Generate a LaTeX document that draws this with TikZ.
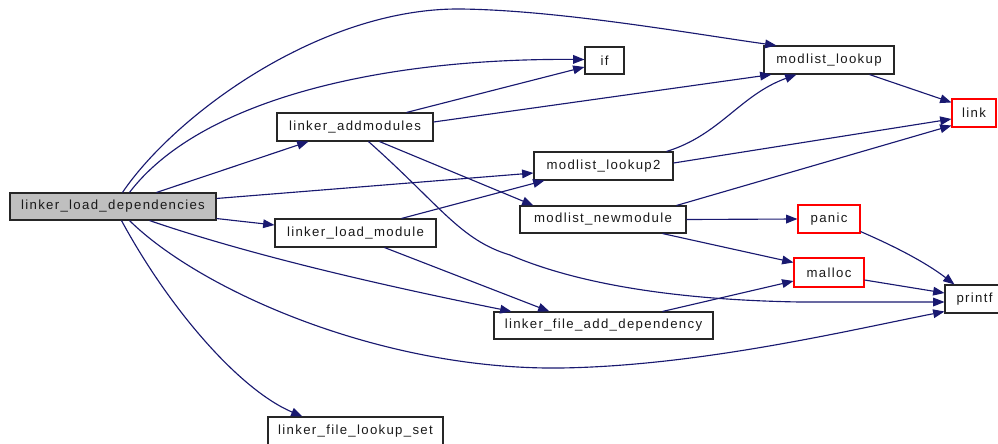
\documentclass[tikz,border=0pt]{standalone}
\usepackage{fontspec}
\setmainfont{Liberation Sans}[LetterSpace=10]
\usetikzlibrary{arrows.meta,calc}
\definecolor{edgeblue}{HTML}{191970}
\definecolor{rootgray}{HTML}{BFBFBF}
\begin{document}
\begin{tikzpicture}[x=0.75pt,y=-0.75pt,
  fn/.style={draw=black!85,line width=0.8pt,inner sep=0pt,font=\fontsize{9.9pt}{11pt}\selectfont,text=black!90},
  undoc/.style={fn,draw=red},
  root/.style={fn,fill=rootgray},
  call/.style={draw=edgeblue,line width=0.85pt,-{Triangle[length=8.5pt,width=6.5pt]}}]
\useasboundingbox (0,0) rectangle (998,443);

% functions
\node[root, minimum width=154.5pt, minimum height=20.25pt] (lld) at (113,206.5) {linker\_load\_dependencies};
\node[fn, minimum width=117pt, minimum height=21pt] (am) at (355,127) {linker\_addmodules};
\node[fn, minimum width=104.25pt, minimum height=21pt] (ml2) at (603.5,166) {modlist\_lookup2};
\node[fn, minimum width=124.5pt, minimum height=20.25pt] (nm) at (603,219.5) {modlist\_newmodule};
\node[fn, minimum width=120.75pt, minimum height=21pt] (lm) at (355.5,233) {linker\_load\_module};
\node[fn, minimum width=29.25pt, minimum height=20.25pt] (if) at (604.5,60.5) {if};
\node[fn, minimum width=97.5pt, minimum height=21pt] (ml) at (829,60) {modlist\_lookup};
\node[undoc, minimum width=33pt, minimum height=21pt] (link) at (974,113) {link};
\node[undoc, minimum width=46.5pt, minimum height=21pt] (panic) at (829,219) {panic};
\node[undoc, minimum width=52.5pt, minimum height=21.75pt] (malloc) at (829,272.5) {malloc};
\node[fn, minimum width=44.25pt, minimum height=21pt] (printf) at (974.5,299) {printf};
\node[fn, minimum width=164.25pt, minimum height=20.25pt] (lfad) at (603.5,325.5) {linker\_file\_add\_dependency};
\node[fn, minimum width=131.25pt, minimum height=21pt] (lfls) at (355.5,431) {linker\_file\_lookup\_set};

% calls from linker_load_dependencies
\draw[call] ($(lld.north west)+(113,0)$) .. controls (175,115) and (320,8) .. (460,9)
  .. controls (560,10) and (700,35) .. ($(ml.north west)+(13,0)$);
\draw[call] ($(lld.north west)+(120,0)$) .. controls (200,100) and (380,58) .. ($(if.west)+(0,-1)$);
\draw[call] ($(lld.north west)+(147,0)$) -- ($(am.south west)+(32,0)$);
\draw[call] ($(lld.north east)+(0,6)$) -- ($(ml2.west)+(0,7)$);
\draw[call] ($(lld.south east)+(0,-2)$) -- ($(lm.west)+(0,-8)$);
\draw[call] ($(lld.south west)+(140,0)$) .. controls (250,255) and (380,285) .. ($(lfad.north west)+(18,0)$);
\draw[call] ($(lld.south west)+(120,0)$) .. controls (200,290) and (380,370) .. (560,368)
  .. controls (700,366) and (850,330) .. ($(printf.south west)+(0,-2)$);
\draw[call] ($(lld.south west)+(112,0)$) .. controls (170,310) and (240,390) .. ($(lfls.north west)+(35,0)$);

% calls from linker_addmodules
\draw[call] ($(am.north west)+(130,0)$) -- ($(if.west)+(0,6.5)$);
\draw[call] ($(am.east)+(0,-5)$) -- ($(ml.south west)+(8,0)$);
\draw[call] ($(am.south west)+(103,0)$) -- ($(nm.north west)+(14,0)$);
\draw[call] ($(am.south west)+(92,0)$) .. controls (440,205) and (460,240) .. (510,255)
  .. controls (580,285) and (680,300) .. (800,302) -- ($(printf.west)+(0,3)$);

% calls from linker_load_module
\draw[call] ($(lm.north west)+(127,0)$) -- ($(ml2.south west)+(11,0)$);
\draw[call] ($(lm.south west)+(110,0)$) -- ($(lfad.north west)+(56,0)$);

% calls from modlist_lookup2
\draw[call] ($(ml2.north west)+(133,0)$) .. controls (720,135) and (740,95) .. ($(ml.south west)+(33,0)$);
\draw[call] ($(ml2.east)+(0,-3)$) -- ($(link.west)+(0,6)$);

% calls from modlist_newmodule
\draw[call] ($(nm.north east)+(-10,0)$) -- ($(link.south west)+(0,-2)$);
\draw[call] (nm.east) -- (panic.west);
\draw[call] ($(nm.south west)+(143,0)$) -- ($(malloc.north west)+(0,5)$);

% remaining calls
\draw[call] ($(lfad.north west)+(169,0)$) -- ($(malloc.west)+(0,8.5)$);
\draw[call] ($(ml.south west)+(106,0)$) -- ($(link.north west)+(0,4)$);
\draw[call] ($(panic.south east)+(0,-2)$) .. controls (880,240) and (920,258) .. ($(printf.north west)+(10,0)$);
\draw[call] ($(malloc.east)+(0,7.5)$) -- ($(printf.west)+(0,-6)$);
\end{tikzpicture}
\end{document}
